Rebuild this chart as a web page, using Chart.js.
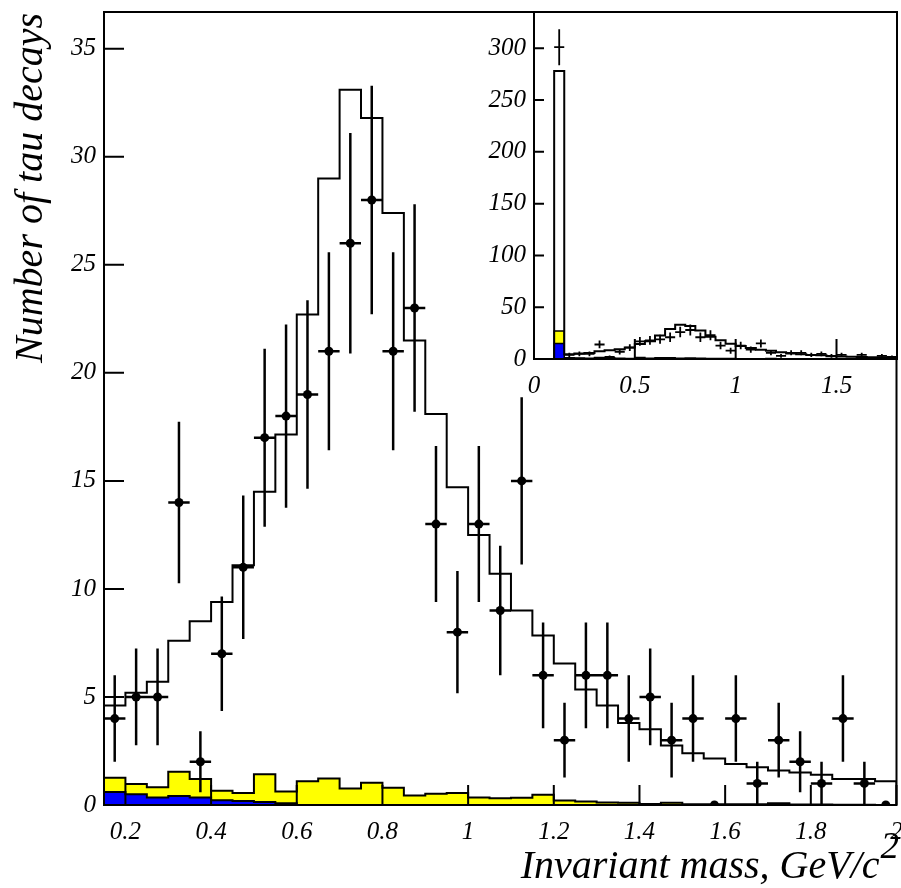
<!DOCTYPE html>
<html lang="en">
  <head>
    <meta charset="UTF-8" />
    <title>Number of tau decays vs invariant mass</title>
    <script src="https://cdn.jsdelivr.net/npm/chart.js"></script>
    <style>
      html, body {
        margin: 0;
        padding: 0;
        background: #fff;
      }
      .wrap {
        position: relative;
        width: 901px;
        height: 888px;
      }
      #mainChart {
        position: absolute;
        left: 0;
        top: 0;
      }
      #insetChart {
        position: absolute;
        left: 440px;
        top: 0;
      }
    </style>
  </head>
  <body>
    <div class="wrap">
      <canvas id="mainChart" width="901" height="888"></canvas>
      <canvas id="insetChart" width="461" height="420"></canvas>
    </div>

    <script>
      // bin centres, GeV/c^2 (bins are 0.05 wide)
      const massBins = [
        0.175, 0.225, 0.275, 0.325, 0.375, 0.425, 0.475, 0.525, 0.575, 0.625,
        0.675, 0.725, 0.775, 0.825, 0.875, 0.925, 0.975, 1.025, 1.075, 1.125,
        1.175, 1.225, 1.275, 1.325, 1.375, 1.425, 1.475, 1.525, 1.575, 1.625,
        1.675, 1.725, 1.775, 1.825, 1.875, 1.925, 1.975
      ];
      const halfBin = 0.025;

      const dataCounts = [
        4, 5, 5, 14, 2, 7, 11, 17, 18, 19,
        21, 26, 28, 21, 23, 13, 8, 13, 9, 15,
        6, 3, 6, 6, 4, 5, 3, 4, 0, 4,
        1, 3, 2, 1, 4, 1, 0
      ];
      const dataErr = [
        2, 2.24, 2.24, 3.74, 1.41, 2.65, 3.32, 4.12, 4.24, 4.36,
        4.58, 5.1, 5.29, 4.58, 4.8, 3.61, 2.83, 3.61, 3, 3.87,
        2.45, 1.73, 2.45, 2.45, 2, 2.24, 1.73, 2, 0, 2,
        1, 1.73, 1.41, 1, 2, 1, 0
      ];
      const mcCounts = [
        4.6, 5.2, 5.7, 7.6, 8.5, 9.4, 11.1, 14.5, 17.15, 22.7,
        29.0, 33.1, 31.8, 27.4, 21.5, 18.1, 14.7, 12.5, 10.7, 9.0,
        7.85, 6.55, 5.35, 4.6, 3.8, 3.5, 2.75, 2.4, 2.15, 1.9,
        1.75, 1.6, 1.5, 1.4, 1.2, 1.2, 1.1
      ];
      // total background (yellow) and its blue part
      const bgTotal = [
        1.26, 0.97, 0.82, 1.54, 1.2, 0.66, 0.55, 1.42, 0.63, 1.1,
        1.23, 0.76, 1.03, 0.8, 0.44, 0.52, 0.56, 0.35, 0.31, 0.33,
        0.47, 0.21, 0.16, 0.12, 0.1, 0.05, 0.1, 0.04, 0.03, 0.03,
        0.03, 0.08, 0.02, 0.02, 0.01, 0.01, 0
      ];
      const bgBlue = [
        0.6, 0.5, 0.35, 0.42, 0.35, 0.22, 0.18, 0.14, 0.08, 0,
        0, 0, 0, 0, 0, 0, 0, 0, 0, 0,
        0, 0, 0, 0, 0, 0, 0, 0, 0, 0,
        0, 0, 0, 0, 0, 0, 0
      ];

      // lowest bin (0.10-0.15), only shown in the inset
      const lowBin = 0.125;
      const lowData = 301;
      const lowDataErr = 17.3;
      const lowMc = 278;
      const lowBgTotal = 27;
      const lowBgBlue = 15;

      const xTicksMain = [0.2, 0.4, 0.6, 0.8, 1, 1.2, 1.4, 1.6, 1.8, 2];
      const yTicksMain = [0, 5, 10, 15, 20, 25, 30, 35];
      const xTicksInset = [0, 0.5, 1, 1.5];
      const yTicksInset = [0, 50, 100, 150, 200, 250, 300];

      const serif = "'Liberation Serif', 'Times New Roman', serif";
      const tickFont = { family: serif, size: 25, style: 'italic' };
      Chart.defaults.color = '#000';

      function histPoints(centers, values) {
        const last = centers.length - 1;
        const pts = [{ x: centers[0] - halfBin, y: 0 }];
        centers.forEach((c, i) => pts.push({ x: c - halfBin, y: values[i] }));
        pts.push({ x: centers[last] + halfBin, y: values[last] });
        pts.push({ x: centers[last] + halfBin, y: 0 });
        return pts;
      }

      function errorBarPoints(centers, values, errs) {
        const pts = [];
        centers.forEach((c, i) => {
          if (values[i] <= 0) return;
          pts.push({ x: c, y: values[i] - errs[i] }, { x: c, y: values[i] + errs[i] }, { x: c, y: null });
          pts.push({ x: c - halfBin, y: values[i] }, { x: c + halfBin, y: values[i] }, { x: c, y: null });
        });
        return pts;
      }

      function histDataset(pts, color, fill, width, order) {
        return {
          data: pts,
          stepped: 'before',
          borderColor: '#000',
          borderWidth: width,
          backgroundColor: color,
          fill: fill ? 'origin' : false,
          pointRadius: 0,
          order: order
        };
      }

      // ticks pointing into the plot and the box round it
      const frameTicks = {
        id: 'frameTicks',
        beforeDraw(chart, args, opts) {
          if (!opts.whiteBack) return;
          const { ctx, chartArea: a } = chart;
          ctx.save();
          ctx.fillStyle = '#fff';
          ctx.fillRect(a.left, a.top, a.width, a.height);
          ctx.restore();
        },
        afterDatasetsDraw(chart, args, opts) {
          const { ctx, chartArea: a, scales } = chart;
          ctx.save();
          ctx.strokeStyle = '#000';
          ctx.lineWidth = 2;
          ctx.beginPath();
          scales.x.ticks.forEach(t => {
            const px = scales.x.getPixelForValue(t.value);
            ctx.moveTo(px, a.bottom);
            ctx.lineTo(px, a.bottom - opts.xLen);
          });
          scales.y.ticks.forEach(t => {
            const py = scales.y.getPixelForValue(t.value);
            ctx.moveTo(a.left, py);
            ctx.lineTo(a.left + opts.yLen, py);
          });
          ctx.stroke();
          ctx.strokeRect(a.left, a.top, a.width, a.height);
          ctx.restore();
        }
      };

      const axisTitles = {
        id: 'axisTitles',
        afterDraw(chart) {
          const { ctx, chartArea: a } = chart;
          ctx.save();
          ctx.fillStyle = '#000';
          ctx.textBaseline = 'alphabetic';
          ctx.font = 'italic 40px ' + serif;
          ctx.textAlign = 'right';
          ctx.fillText('Invariant mass, GeV/c', a.right - 17, a.bottom + 73);
          ctx.font = 'italic 37px ' + serif;
          ctx.textAlign = 'left';
          ctx.fillText('2', a.right - 16, a.bottom + 53);
          ctx.translate(a.left - 62, a.top + 1);
          ctx.rotate(-Math.PI / 2);
          ctx.font = 'italic 40px ' + serif;
          ctx.textAlign = 'right';
          ctx.fillText('Number of tau decays', 0, 0);
          ctx.restore();
        }
      };

      function axes(xMin, xMax, yMax, xTicks, yTicks, yWidth, xHeight) {
        return {
          x: {
            type: 'linear',
            min: xMin,
            max: xMax,
            grid: { display: false, drawTicks: false },
            border: { display: false },
            afterBuildTicks: s => { s.ticks = xTicks.map(v => ({ value: v })); },
            ticks: { padding: 12, maxRotation: 0, autoSkip: false, font: tickFont, callback: v => String(v) },
            afterFit: s => { s.height = xHeight; s.paddingLeft = 0; s.paddingRight = 0; }
          },
          y: {
            type: 'linear',
            min: 0,
            max: yMax,
            grid: { display: false, drawTicks: false },
            border: { display: false },
            afterBuildTicks: s => { s.ticks = yTicks.map(v => ({ value: v })); },
            ticks: { padding: 8, autoSkip: false, font: tickFont, callback: v => String(v) },
            afterFit: s => { s.width = yWidth; s.paddingTop = 0; s.paddingBottom = 0; }
          }
        };
      }

      const baseOptions = {
        responsive: false,
        animation: false,
        events: [],
        plugins: { legend: { display: false }, tooltip: { enabled: false } }
      };

      // main plot
      const dotPoints = massBins.map((c, i) => ({ x: c, y: dataCounts[i] }));
      new Chart(document.getElementById('mainChart'), {
        type: 'line',
        data: {
          datasets: [
            histDataset(histPoints(massBins, bgTotal), '#ffff00', true, 2, 5),
            histDataset(histPoints(massBins, bgBlue), '#0000ff', true, 2, 4),
            histDataset(histPoints(massBins, mcCounts), 'transparent', false, 2, 3),
            {
              data: errorBarPoints(massBins, dataCounts, dataErr),
              borderColor: '#000',
              borderWidth: 2.5,
              pointRadius: 0,
              spanGaps: false,
              order: 2
            },
            {
              data: dotPoints,
              showLine: false,
              pointRadius: 4.5,
              pointBackgroundColor: '#000',
              pointBorderWidth: 0,
              order: 1
            }
          ]
        },
        options: {
          ...baseOptions,
          layout: { padding: { left: 0, top: 12, right: 4, bottom: 0 } },
          scales: axes(0.15, 2.0, 36.7, xTicksMain, yTicksMain, 104, 83),
          plugins: { ...baseOptions.plugins, frameTicks: { xLen: 20, yLen: 20, whiteBack: false } }
        },
        plugins: [frameTicks, axisTitles]
      });

      // inset: 0 - 1.8 with the lowest bin included
      const insetBins = [lowBin].concat(massBins.filter(c => c < 1.8));
      const n = insetBins.length - 1;
      const insetData = [lowData].concat(dataCounts.slice(0, n));
      const insetErr = [lowDataErr].concat(dataErr.slice(0, n));
      const insetMc = [lowMc].concat(mcCounts.slice(0, n));
      const insetBgTotal = [lowBgTotal].concat(bgTotal.slice(0, n));
      const insetBgBlue = [lowBgBlue].concat(bgBlue.slice(0, n));

      new Chart(document.getElementById('insetChart'), {
        type: 'line',
        data: {
          datasets: [
            histDataset(histPoints(insetBins, insetBgTotal), '#ffff00', true, 1.5, 5),
            histDataset(histPoints(insetBins, insetBgBlue), '#0000ff', true, 1.5, 4),
            histDataset(histPoints(insetBins, insetMc), 'transparent', false, 2, 3),
            {
              data: errorBarPoints(insetBins, insetData, insetErr),
              borderColor: '#000',
              borderWidth: 1.8,
              pointRadius: 0,
              spanGaps: false,
              order: 2
            }
          ]
        },
        options: {
          ...baseOptions,
          layout: { padding: { left: 0, top: 12, right: 4, bottom: 0 } },
          scales: axes(0, 1.8, 335, xTicksInset, yTicksInset, 94, 61),
          plugins: { ...baseOptions.plugins, frameTicks: { xLen: 20, yLen: 10, whiteBack: true } }
        },
        plugins: [frameTicks]
      });
    </script>
  </body>
</html>
